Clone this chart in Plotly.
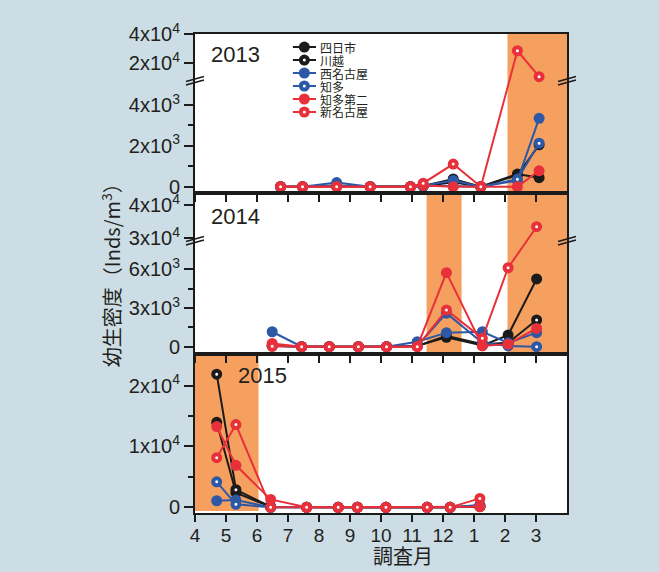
import plotly.graph_objects as go

# ---- sampling dates (month position; 13 = Jan, 14 = Feb, 15 = Mar of the next year)
months_2013 = [6.76, 7.47, 8.57, 9.65, 10.95, 11.36, 12.33, 13.22, 14.40, 15.10]
months_2014 = [6.49, 7.44, 8.33, 9.27, 10.18, 11.17, 12.11, 13.27, 14.10, 15.02]
months_2015 = [4.70, 5.32, 6.44, 7.60, 8.62, 9.24, 10.16, 11.49, 12.23, 13.19]

month_ticks = [4, 5, 6, 7, 8, 9, 10, 11, 12, 13, 14, 15]
month_labels = ["4", "5", "6", "7", "8", "9", "10", "11", "12", "1", "2", "3"]

stations = ["四日市", "川越", "西名古屋", "知多", "知多第二", "新名古屋"]

# ---- larval density (Inds/m3)
yokkaichi_2013 = [0, 0, 60, 0, 0, 40, 380, 0, 620, 440]
kawagoe_2013 = [0, 0, 30, 0, 0, 20, 220, 0, 560, 2050]
nishinagoya_2013 = [0, 0, 200, 0, 0, 50, 300, 0, 300, 3350]
chita_2013 = [0, 0, 40, 0, 0, 30, 30, 0, 360, 2130]
chita2_2013 = [0, 0, 0, 0, 0, 60, 0, 0, 0, 780]
shinnagoya_2013 = [0, 0, 0, 0, 0, 170, 1110, 0, 28600, 10900]

yokkaichi_2014 = [100, 0, 0, 0, 0, 80, 730, 100, 900, 5250]
kawagoe_2014 = [50, 0, 0, 0, 0, 40, 850, 200, 300, 2070]
nishinagoya_2014 = [1160, 0, 0, 0, 0, 390, 1090, 1160, 300, 1090]
chita_2014 = [80, 0, 0, 0, 0, 60, 2600, 300, 60, 0]
chita2_2014 = [250, 0, 0, 0, 0, 0, 5740, 60, 200, 1420]
shinnagoya_2014 = [30, 0, 0, 0, 0, 0, 2850, 650, 6120, 33400]

yokkaichi_2015 = [13960, 2400, 50, 0, 0, 0, 0, 0, 0, 100]
kawagoe_2015 = [21860, 2900, 100, 0, 0, 0, 0, 0, 0, 150]
nishinagoya_2015 = [1080, 1190, 0, 0, 0, 0, 0, 0, 0, 380]
chita_2015 = [4180, 490, 0, 0, 0, 0, 0, 0, 0, 300]
chita2_2015 = [13260, 6900, 1300, 0, 0, 0, 0, 0, 0, 100]
shinnagoya_2015 = [8150, 13590, 0, 0, 0, 0, 0, 0, 0, 1470]

# spawning periods shaded per season (month ranges)
spawn_2013 = [(14.08, 16.0)]
spawn_2014 = [(11.47, 12.60), (14.08, 16.0)]
spawn_2015 = [(4.0, 6.05)]

BLACK = "#1b1b1b"
BLUE = "#2c58a6"
RED = "#e8303a"
ORANGE = "#f6a05f"
BG = "#cddde5"
TEXT = "#231f20"

styles = [
    (BLACK, False), (BLACK, True),
    (BLUE, False), (BLUE, True),
    (RED, False), (RED, True),
]


def broken_scale(lo_top, hi_start, k):
    """Piecewise-linear scale for a y axis with a break."""
    def f(v):
        if lo_top is None or v <= lo_top:
            return v
        return lo_top + (v - hi_start) * k
    return f


scale_2013 = broken_scale(5130, 7240, 0.0718)
scale_2014 = broken_scale(8120, 28790, 0.256)
scale_2015 = broken_scale(None, 0, 1)

panels = [
    dict(name="2013", months=months_2013, scale=scale_2013,
         series=[yokkaichi_2013, kawagoe_2013, nishinagoya_2013, chita_2013, chita2_2013, shinnagoya_2013],
         spawn=spawn_2013, rng=[-309, 7485],
         ticks=[0, 2000, 4000, 20000, 40000],
         labels=["0", "2x10<sup>3</sup>", "4x10<sup>3</sup>", "2x10<sup>4</sup>", "4x10<sup>4</sup>"],
         minor=[1000, 3000], brk=5130, domain=[0.6681, 1.0], label_pos=(0.0385, 0.9562)),
    dict(name="2014", months=months_2014, scale=scale_2014,
         series=[yokkaichi_2014, kawagoe_2014, nishinagoya_2014, chita_2014, chita2_2014, shinnagoya_2014],
         spawn=spawn_2014, rng=[-566, 11915],
         ticks=[0, 3000, 6000, 30000, 40000],
         labels=["0", "3x10<sup>3</sup>", "6x10<sup>3</sup>", "3x10<sup>4</sup>", "4x10<sup>4</sup>"],
         minor=[1500, 4500], brk=8120, domain=[0.3319, 0.6681], label_pos=(0.0385, 0.6200)),
    dict(name="2015", months=months_2015, scale=scale_2015,
         series=[yokkaichi_2015, kawagoe_2015, nishinagoya_2015, chita_2015, chita2_2015, shinnagoya_2015],
         spawn=spawn_2015, rng=[-930, 25170],
         ticks=[0, 10000, 20000],
         labels=["0", "1x10<sup>4</sup>", "2x10<sup>4</sup>"],
         minor=[5000, 15000], brk=None, domain=[0.0, 0.3319], label_pos=(0.1101, 0.2881)),
]


def marker_for(color, hollow):
    if hollow:
        return dict(symbol="circle", size=7, color="white", line=dict(color=color, width=4))
    return dict(symbol="circle", size=11, color=color, line=dict(width=0))


fig = go.Figure()
shapes = []
annotations = []
tick_font = dict(family="Liberation Sans, Arial, sans-serif", size=20, color=TEXT)

for p_i, p in enumerate(panels):
    sfx = "" if p_i == 0 else str(p_i + 1)
    xa, ya = "x" + sfx, "y" + sfx
    f = p["scale"]
    for name, vals, (color, hollow) in zip(stations, p["series"], styles):
        fig.add_trace(go.Scatter(
            x=p["months"], y=[f(v) for v in vals], xaxis=xa, yaxis=ya,
            mode="lines+markers", name=name, showlegend=False,
            line=dict(color=color, width=2),
            marker=marker_for(color, hollow),
        ))
    bottom = p_i == len(panels) - 1
    fig.layout["xaxis" + sfx] = dict(
        domain=[0, 1], anchor=ya, range=[4, 16],
        tickmode="array", tickvals=month_ticks, ticktext=month_labels,
        showticklabels=bottom, ticks="outside", ticklen=7, tickwidth=1.8,
        tickcolor=BLACK, showline=True, mirror=True, linecolor=BLACK, linewidth=2,
        showgrid=False, zeroline=False, tickfont=dict(tick_font, size=19), fixedrange=True,
        ticklabelstandoff=-3,
    )
    fig.layout["yaxis" + sfx] = dict(
        domain=p["domain"], anchor=xa, range=p["rng"],
        tickmode="array", tickvals=[f(v) for v in p["ticks"]], ticktext=p["labels"],
        ticks="outside", ticklen=9, tickwidth=1.8, tickcolor=BLACK,
        minor=dict(tickmode="array", tickvals=[f(v) for v in p["minor"]],
                   ticks="outside", ticklen=5, tickwidth=1.8, tickcolor=BLACK),
        showline=True, mirror=True, linecolor=BLACK, linewidth=2,
        showgrid=False, zeroline=False, tickfont=tick_font, fixedrange=True,
    )
    for x0, x1 in p["spawn"]:
        shapes.append(dict(type="rect", xref=xa, yref=ya + " domain", x0=x0, x1=x1,
                           y0=0.012, y1=1, fillcolor=ORANGE, line=dict(width=0), layer="below"))
    if p["brk"] is not None:
        for side in (0, 1):
            for off in (0, 3.5):
                shapes.append(dict(type="line", xref="paper", yref=ya,
                                   xsizemode="pixel", xanchor=side, x0=-9, x1=9,
                                   ysizemode="pixel", yanchor=p["brk"], y0=-3 + off, y1=2 + off,
                                   line=dict(color=BLACK, width=1.6)))
    annotations.append(dict(text=p["name"], xref="paper", yref="paper",
                            x=p["label_pos"][0], y=p["label_pos"][1], xanchor="left", yanchor="middle",
                            showarrow=False, font=dict(family="Liberation Sans, Arial", size=22, color=TEXT)))

# ---- station key drawn on its own small axes inside the 2013 panel
for i, (name, (color, hollow)) in enumerate(zip(stations, styles)):
    fig.add_trace(go.Scatter(
        x=[0, 0.5, 1], y=[i, i, i], xaxis="x4", yaxis="y4",
        mode="lines+markers", showlegend=False, hoverinfo="skip",
        line=dict(color=color, width=2),
        marker=dict(marker_for(color, hollow), opacity=[0, 1, 0]),
    ))
    annotations.append(dict(text=name, xref="x4", yref="y4", x=1, y=i,
                            xanchor="left", yanchor="middle", xshift=2, showarrow=False,
                            font=dict(family="Noto Sans CJK JP", size=12, color=TEXT)))

fig.layout.xaxis4 = dict(domain=[0.2626, 0.3253], anchor="y4", range=[0, 1], visible=False, fixedrange=True)
fig.layout.yaxis4 = dict(domain=[0.8236, 0.9864], anchor="x4", range=[5.5, -0.5], visible=False, fixedrange=True)

# axis titles
annotations.append(dict(text="幼生密度（Inds/m<sup>3</sup>）", xref="paper", yref="paper",
                        x=-0.2258, y=0.507, xanchor="center", yanchor="middle",
                        textangle=-90, showarrow=False,
                        font=dict(family="Noto Sans CJK JP", size=20, color=TEXT)))
annotations.append(dict(text="調査月", xref="paper", yref="paper", x=0.559, y=-0.0877,
                        xanchor="center", yanchor="middle", showarrow=False,
                        font=dict(family="Noto Sans CJK JP", size=20, color=TEXT)))

fig.update_layout(
    width=659, height=572,
    margin=dict(l=195, r=92, t=34, b=59),
    paper_bgcolor=BG, plot_bgcolor="white",
    shapes=shapes, annotations=annotations,
    showlegend=False,
)

fig.write_html("out.html")
